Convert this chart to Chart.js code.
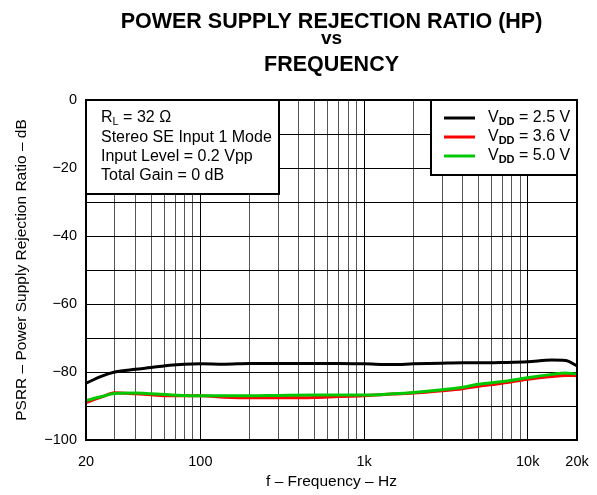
<!DOCTYPE html>
<html>
<head>
<meta charset="utf-8">
<script src="https://cdn.jsdelivr.net/npm/chart.js@4/dist/chart.umd.min.js"></script>
<style>
html,body{margin:0;padding:0;background:#fff;}
#wrap{width:597px;height:495px;position:relative;}
</style>
</head>
<body>
<div id="wrap"><canvas id="c" width="597" height="495"></canvas></div>
<script>
// ---- data ----
const freqs = [20, 25, 30, 40, 50, 65, 80, 100, 140, 200, 300, 500, 700, 1000, 1500, 2000, 3000, 4000, 5000, 7000, 10000, 14000, 17000, 20000];
const vdd25 = [-83.3, -81.2, -80.0, -79.2, -78.7, -78.0, -77.7, -77.6, -77.7, -77.5, -77.5, -77.5, -77.5, -77.6, -77.8, -77.6, -77.4, -77.3, -77.3, -77.2, -77.0, -76.5, -76.6, -78.2];
const vdd36 = [-89.0, -87.3, -86.1, -86.4, -86.7, -87.0, -87.0, -87.0, -87.4, -87.6, -87.6, -87.5, -87.2, -87.0, -86.5, -86.2, -85.5, -84.9, -84.2, -83.3, -82.1, -81.3, -81.0, -81.1];
const vdd50 = [-88.4, -87.2, -86.3, -86.2, -86.4, -86.7, -86.9, -87.0, -87.0, -87.0, -86.9, -86.8, -86.8, -86.8, -86.4, -86.0, -85.2, -84.5, -83.6, -82.8, -81.7, -80.7, -80.3, -80.6];
const seriesNames = ['2.5 V', '3.6 V', '5.0 V'];
const xGridValues = [20,30,40,50,60,70,80,90,100,200,300,400,500,600,700,800,900,1000,2000,3000,4000,5000,6000,7000,8000,9000,10000,20000];
const xTickLabels = {20:'20', 100:'100', 1000:'1k', 10000:'10k', 20000:'20k'};
const yTickLabels = {0:'0', '-20':'\u221220', '-40':'\u221240', '-60':'\u221260', '-80':'\u221280', '-100':'\u2212100'};
const titleLines = ['POWER SUPPLY REJECTION RATIO (HP)', 'vs', 'FREQUENCY'];
const infoLines = ['Stereo SE Input 1 Mode', 'Input Level = 0.2 Vpp', 'Total Gain = 0 dB'];

const FONT = '"Liberation Sans", Arial, Helvetica, sans-serif';
const colors = ['#000000', '#ff0000', '#00c800'];

function pts(arr){ return freqs.map((f,i)=>({x:f, y:arr[i]})); }

const decorPlugin = {
  id: 'decor',
  afterDraw(chart){
    const ctx = chart.ctx;
    const a = chart.chartArea;
    ctx.save();
    // frame
    ctx.strokeStyle = '#000';
    ctx.lineWidth = 2;
    ctx.strokeRect(a.left, a.top, a.right - a.left, a.bottom - a.top);

    // title
    const cx = (a.left + a.right) / 2;
    ctx.fillStyle = '#000';
    ctx.textAlign = 'center';
    ctx.textBaseline = 'alphabetic';
    ctx.font = 'bold 21.5px ' + FONT;
    ctx.fillText(titleLines[0], cx, 27.7);
    ctx.font = 'bold 19px ' + FONT;
    ctx.fillText(titleLines[1], cx, 43.5);
    ctx.font = 'bold 21.5px ' + FONT;
    ctx.fillText(titleLines[2], cx, 71);

    // left info box
    const bx = a.left, by = a.top, bw = 279 - a.left, bh = 194 - a.top;
    ctx.fillStyle = '#fff';
    ctx.fillRect(bx, by, bw, bh);
    ctx.strokeStyle = '#000';
    ctx.lineWidth = 2;
    ctx.strokeRect(bx, by, bw, bh);
    ctx.fillStyle = '#000';
    ctx.textAlign = 'left';
    ctx.textBaseline = 'middle';
    ctx.font = '16px ' + FONT;
    let tx = 101;
    ctx.fillText('R', tx, 118);
    let w = ctx.measureText('R').width;
    ctx.font = '11px ' + FONT;
    ctx.fillText('L', tx + w, 122);
    let w2 = ctx.measureText('L').width;
    ctx.font = '16px ' + FONT;
    ctx.fillText(' = 32 \u03a9', tx + w + w2, 118);
    const rows = [138, 157, 176];
    infoLines.forEach((t,i)=>ctx.fillText(t, tx, rows[i]));

    // legend box
    const lx = 431, ly = a.top, lw = a.right - 431, lh = 175 - a.top;
    ctx.fillStyle = '#fff';
    ctx.fillRect(lx, ly, lw, lh);
    ctx.strokeRect(lx, ly, lw, lh);
    const lrows = [118, 137, 156];
    seriesNames.forEach((n,i)=>{
      const yy = lrows[i];
      ctx.strokeStyle = colors[i];
      ctx.lineWidth = 3;
      ctx.beginPath();
      ctx.moveTo(444, yy); ctx.lineTo(475, yy);
      ctx.stroke();
      ctx.fillStyle = '#000';
      ctx.font = '16px ' + FONT;
      ctx.fillText('V', 488, yy);
      const vw = ctx.measureText('V').width;
      ctx.font = 'bold 11px ' + FONT;
      ctx.fillText('DD', 488 + vw, yy + 4);
      const dw = ctx.measureText('DD').width;
      ctx.font = '16px ' + FONT;
      ctx.fillText(' = ' + n, 488 + vw + dw, yy);
    });
    ctx.restore();
  }
};

new Chart(document.getElementById('c'), {
  type: 'line',
  data: {
    datasets: [
      {label: 'VDD = 2.5 V', data: pts(vdd25), borderColor: colors[0], order: 2},
      {label: 'VDD = 3.6 V', data: pts(vdd36), borderColor: colors[1], order: 1},
      {label: 'VDD = 5.0 V', data: pts(vdd50), borderColor: colors[2], order: 0}
    ].map(d=>Object.assign(d, {borderWidth: 3, pointRadius: 0, tension: 0.4, cubicInterpolationMode: 'monotone', fill: false}))
  },
  options: {
    responsive: false,
    animation: false,
    devicePixelRatio: 1,
    layout: {padding: {top: 100, right: 20, left: 0, bottom: 0}},
    plugins: {legend: {display: false}, title: {display: false}, tooltip: {enabled: false}},
    scales: {
      x: {
        type: 'logarithmic',
        min: 20, max: 20000,
        afterBuildTicks: (s)=>{ s.ticks = xGridValues.map(v=>({value: v})); },
        afterFit: (s)=>{ s.height = 55; s.paddingLeft = 0; s.paddingRight = 0; },
        ticks: {
          autoSkip: false, maxRotation: 0, padding: 13, color: '#000',
          font: {family: FONT, size: 14.5},
          callback: (v)=> xTickLabels[v] !== undefined ? xTickLabels[v] : ''
        },
        grid: {
          drawTicks: false,
          lineWidth: 1,
          color: (ctx)=>{ const v = ctx.tick && ctx.tick.value; return (v===100||v===1000||v===10000) ? '#000' : '#555'; }
        },
        border: {display: false},
        title: {display: true, text: 'f \u2013 Frequency \u2013 Hz', color: '#000', font: {family: FONT, size: 15.5}, padding: {top: 0, bottom: 3.7}}
      },
      y: {
        min: -100, max: 0,
        afterBuildTicks: (s)=>{ const t=[]; for(let v=-100; v<=0; v+=10) t.push({value:v}); s.ticks = t; },
        afterFit: (s)=>{ s.width = 86; s.paddingTop = 0; s.paddingBottom = 0; },
        ticks: {
          padding: 9, color: '#000',
          font: {family: FONT, size: 14.5},
          callback: (v)=> yTickLabels[v] !== undefined ? yTickLabels[v] : ''
        },
        grid: {drawTicks: false, lineWidth: 1, color: '#000'},
        border: {display: false},
        title: {display: true, text: 'PSRR \u2013 Power Supply Rejection Ratio \u2013 dB', color: '#000', font: {family: FONT, size: 15.5}, padding: {top: 12.4, bottom: 0}}
      }
    }
  },
  plugins: [decorPlugin]
});
</script>
</body>
</html>
